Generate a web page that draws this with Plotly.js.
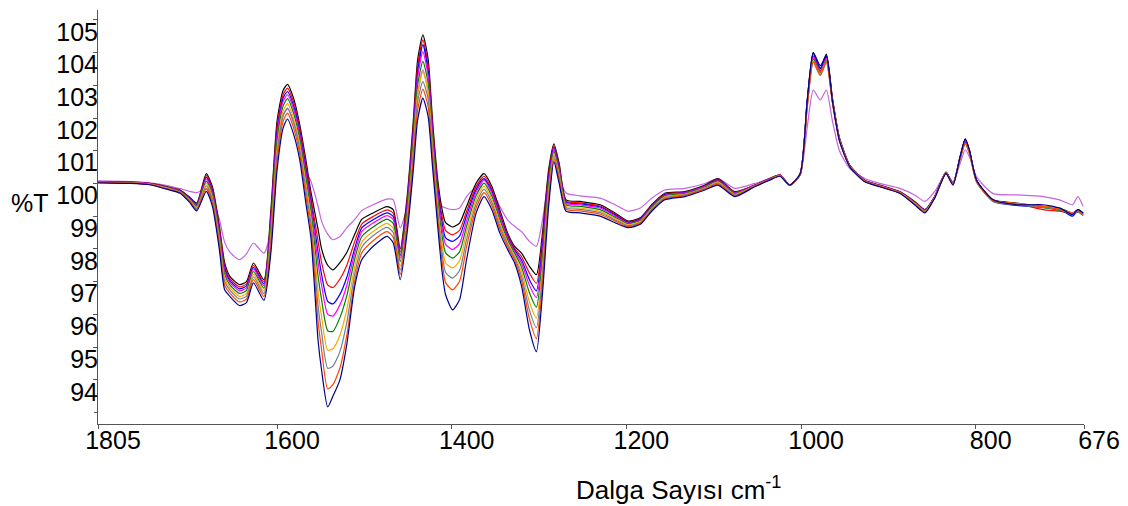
<!DOCTYPE html>
<html>
<head>
<meta charset="utf-8">
<script src="https://cdn.plot.ly/plotly-3.0.1.min.js"></script>
<style>html,body{margin:0;padding:0;background:#fff;}#chart{width:1128px;height:506px;}</style>
</head>
<body>
<div id="chart"></div>
<script>
// Wavenumbers (cm-1)
const wavenumber = [1805,1769,1746,1723,1711,1700,1692,1681,1674,1666,1660,1654,1643,1635,1627,1615,1607,1600,1593,1588,1581,1574,1567,1561,1553,1549,1542,1536,1528,1520,1511,1503,1490,1474,1467,1459,1451,1444,1439,1433,1427,1422,1416,1411,1407,1399,1391,1383,1372,1363,1354,1345,1336,1328,1320,1311,1303,1296,1289,1283,1277,1269,1253,1230,1213,1198,1184,1171,1156,1133,1110,1095,1076,1053,1036,1024,1013,1001,993,986,978,971,964,956,944,927,910,887,870,858,847,834,826,818,812,807,799,780,753,723,704,689,683,677];

const sViolet = [100.08,100.06,100.02,99.92,99.84,99.76,99.72,99.83,99.55,98.9,98.2,97.9,97.67,97.85,98.18,97.87,98.6,101.0,102.1,102.28,101.9,101.2,100.4,100.05,99.3,98.85,98.45,98.28,98.38,98.65,98.9,99.17,99.35,99.52,99.5,98.64,99.3,100.9,102.7,103.47,102.8,101.3,99.7,99.3,99.25,99.2,99.25,99.6,99.91,100.13,99.8,99.3,98.89,98.69,98.53,98.23,98.08,98.89,100.21,101.03,100.21,99.71,99.62,99.55,99.35,99.15,99.25,99.55,99.8,99.85,100.0,100.15,99.85,100.0,100.15,100.22,99.95,100.25,101.7,102.85,102.55,102.85,101.9,101.0,100.45,100.15,100.0,99.85,99.65,99.45,99.75,100.3,100.05,100.6,101.03,100.8,100.2,99.69,99.65,99.6,99.5,99.35,99.6,99.3];

const sBlack = [100.05,100.04,100.0,99.88,99.8,99.58,99.4,100.3,99.9,98.69,97.58,97.16,96.91,97.0,97.57,97.06,99.2,101.9,102.85,103.03,102.6,101.8,100.72,99.71,98.6,98.0,97.5,97.36,97.58,97.9,98.45,98.9,99.1,99.29,99.2,98.0,99.6,101.9,103.78,104.54,103.8,101.94,100.11,99.2,98.8,98.67,98.79,99.3,100.01,100.3,99.91,99.2,98.49,98.08,97.87,97.47,97.21,98.5,100.42,101.21,100.62,99.5,99.45,99.35,99.1,98.85,98.95,99.35,99.7,99.75,99.95,100.15,99.75,99.95,100.15,100.26,99.95,100.3,102.5,104.0,103.5,103.95,102.6,101.4,100.55,100.1,99.95,99.75,99.45,99.2,99.6,100.35,100.0,100.8,101.36,101.0,100.1,99.5,99.4,99.3,99.25,99.1,99.2,99.1];

const sRed = [100.05,100.04,100.0,99.87,99.79,99.56,99.37,100.24,99.83,98.61,97.49,97.09,96.84,96.93,97.5,96.99,99.06,101.74,102.72,102.91,102.48,101.68,100.58,99.55,98.23,97.59,96.9,96.82,97.08,97.51,98.23,98.76,98.99,99.19,99.09,97.9,99.48,101.74,103.58,104.39,103.61,101.78,99.95,98.99,98.56,98.43,98.57,99.15,99.91,100.22,99.83,99.12,98.43,98.02,97.76,97.26,96.95,98.3,100.3,101.15,100.55,99.46,99.41,99.31,99.07,98.83,98.93,99.33,99.68,99.73,99.93,100.13,99.73,99.95,100.15,100.26,99.95,100.28,102.45,103.9,103.45,103.88,102.55,101.37,100.54,100.09,99.94,99.74,99.44,99.19,99.59,100.34,99.99,100.78,101.3,100.96,100.08,99.49,99.38,99.2,99.15,99.08,99.15,99.05];

const sBlue = [100.04,100.03,99.99,99.86,99.78,99.55,99.35,100.19,99.77,98.54,97.41,97.03,96.78,96.87,97.44,96.93,98.93,101.59,102.61,102.81,102.37,101.57,100.44,99.41,97.89,97.22,96.4,96.32,96.61,97.14,98.02,98.64,98.89,99.1,98.99,97.8,99.37,101.59,103.39,104.24,103.43,101.64,99.81,98.8,98.34,98.23,98.39,99.02,99.82,100.15,99.76,99.05,98.38,97.97,97.66,97.06,96.72,98.11,100.18,101.1,100.49,99.43,99.38,99.28,99.04,98.81,98.91,99.31,99.66,99.72,99.92,100.11,99.72,99.94,100.14,100.25,99.96,100.3,102.5,103.97,103.52,103.9,102.55,101.36,100.53,100.08,99.93,99.73,99.43,99.18,99.59,100.34,99.99,100.8,101.34,100.98,100.1,99.45,99.33,99.28,99.22,99.0,99.18,99.08];

const sMagenta = [100.04,100.03,99.99,99.86,99.77,99.53,99.33,100.14,99.72,98.48,97.33,96.98,96.72,96.81,97.39,96.87,98.81,101.45,102.51,102.71,102.27,101.48,100.32,99.29,97.58,96.89,96.0,95.95,96.29,96.89,97.88,98.53,98.79,99.02,98.9,97.72,99.27,101.45,103.23,104.03,103.28,101.51,99.68,98.63,98.14,97.98,98.16,98.86,99.74,100.09,99.7,98.99,98.34,97.93,97.57,96.89,96.51,97.95,100.08,101.05,100.44,99.4,99.35,99.25,99.01,98.79,98.89,99.29,99.64,99.71,99.91,100.09,99.71,99.94,100.14,100.25,99.95,100.29,102.42,103.85,103.42,103.83,102.52,101.35,100.53,100.08,99.93,99.73,99.42,99.17,99.58,100.33,99.98,100.77,101.28,100.95,100.07,99.47,99.37,99.27,99.2,99.1,99.16,99.06];

const sGreen = [100.04,100.02,99.98,99.85,99.76,99.51,99.3,100.07,99.65,98.39,97.23,96.9,96.64,96.73,97.31,96.8,98.65,101.27,102.37,102.59,102.14,101.35,100.17,99.12,97.17,96.45,95.5,95.48,95.9,96.58,97.7,98.38,98.67,98.91,98.78,97.61,99.14,101.27,103.01,103.73,103.07,101.34,99.51,98.4,97.88,97.72,97.91,98.69,99.63,100.01,99.61,98.9,98.28,97.87,97.45,96.66,96.22,97.73,99.95,100.98,100.36,99.35,99.3,99.2,98.97,98.77,98.87,99.27,99.62,99.69,99.89,100.07,99.69,99.93,100.13,100.24,99.94,100.27,102.38,103.8,103.38,103.78,102.5,101.34,100.52,100.07,99.92,99.72,99.41,99.16,99.58,100.33,99.98,100.76,101.25,100.93,100.06,99.46,99.36,99.26,99.18,99.07,99.12,99.02];

const sOrange = [100.03,100.02,99.98,99.84,99.74,99.49,99.27,100.0,99.56,98.29,97.12,96.82,96.55,96.64,97.23,96.71,98.47,101.06,102.21,102.44,101.98,101.2,99.98,98.92,96.7,95.93,94.9,94.95,95.36,96.16,97.46,98.21,98.53,98.78,98.63,97.47,98.98,101.06,102.75,103.42,102.82,101.14,99.31,98.14,97.57,97.42,97.64,98.5,99.5,99.91,99.51,98.8,98.2,97.79,97.3,96.38,95.89,97.47,99.79,100.91,100.28,99.3,99.25,99.15,98.93,98.74,98.84,99.24,99.59,99.67,99.87,100.04,99.67,99.92,100.12,100.24,99.95,100.28,102.35,103.75,103.35,103.74,102.48,101.33,100.52,100.07,99.92,99.72,99.4,99.15,99.57,100.32,99.97,100.75,101.22,100.92,100.05,99.48,99.39,99.3,99.22,99.09,99.17,99.07];

const sGray = [100.03,100.01,99.97,99.82,99.73,99.47,99.23,99.93,99.49,98.2,97.01,96.74,96.47,96.56,97.15,96.63,98.3,100.87,102.06,102.3,101.84,101.05,99.81,98.74,96.25,95.45,94.35,94.42,94.86,95.77,97.24,98.05,98.4,98.66,98.5,97.35,98.84,100.87,102.51,103.11,102.59,100.96,99.13,97.89,97.28,97.11,97.34,98.29,99.38,99.82,99.42,98.71,98.14,97.73,97.17,96.13,95.59,97.23,99.65,100.84,100.2,99.26,99.21,99.11,98.89,98.71,98.81,99.21,99.56,99.65,99.85,100.01,99.65,99.92,100.12,100.23,99.94,100.26,102.3,103.7,103.3,103.7,102.46,101.32,100.51,100.06,99.91,99.71,99.38,99.13,99.57,100.32,99.97,100.74,101.2,100.9,100.04,99.45,99.35,99.27,99.2,99.06,99.14,99.04];

const sOrangeRed = [100.03,100.01,99.97,99.81,99.72,99.45,99.2,99.85,99.4,98.1,96.89,96.65,96.38,96.47,97.06,96.54,98.12,100.66,101.9,102.15,101.69,100.9,99.62,98.54,95.78,94.93,93.72,93.85,94.36,95.38,97.02,97.88,98.25,98.53,98.36,97.22,98.69,100.66,102.25,102.88,102.35,100.76,98.93,97.62,96.97,96.75,97.01,98.06,99.25,99.72,99.32,98.61,98.07,97.66,97.03,95.86,95.26,96.97,99.49,100.76,100.11,99.21,99.16,99.06,98.85,98.68,98.78,99.18,99.53,99.63,99.83,99.98,99.63,99.91,100.11,100.23,99.95,100.27,102.32,103.72,103.32,103.72,102.47,101.31,100.51,100.06,99.91,99.71,99.37,99.12,99.56,100.31,99.96,100.76,101.24,100.92,100.06,99.47,99.38,99.29,99.21,99.08,99.16,99.06];

const sNavy = [100.02,100.0,99.96,99.8,99.7,99.42,99.16,99.76,99.3,97.98,96.75,96.55,96.27,96.36,96.96,96.43,97.9,100.4,101.7,101.97,101.5,100.72,99.4,98.3,95.2,94.3,93.17,93.5,94.0,95.1,96.86,97.67,98.08,98.38,98.19,97.06,98.5,100.4,101.94,102.61,102.05,100.52,98.69,97.3,96.6,96.14,96.45,97.67,99.1,99.6,99.2,98.49,97.98,97.57,96.86,95.53,94.86,96.66,99.3,100.67,100.01,99.15,99.1,99.0,98.8,98.65,98.75,99.15,99.5,99.6,99.8,99.95,99.6,99.9,100.1,100.22,99.95,100.3,102.5,104.0,103.6,103.9,102.5,101.3,100.5,100.05,99.9,99.7,99.35,99.1,99.55,100.3,99.95,100.8,101.36,101.0,100.1,99.5,99.35,99.35,99.25,99.05,99.2,99.1];

const seriesNames = ['violet','black','red','blue','magenta','green','orange','gray','orangered','navy'];
const seriesValues = [sViolet,sBlack,sRed,sBlue,sMagenta,sGreen,sOrange,sGray,sOrangeRed,sNavy];
const seriesColors = ['#C463E0','#000000','#FF0000','#0000FF','#FF00FF','#008000','#FFA500','#708090','#FF4500','#00008B'];

const xTickVals = [1805,1600,1400,1200,1000,800,676];
const yTickVals = [94,95,96,97,98,99,100,101,102,103,104,105];
const yMinorTick = 93;

const FONT = 'Arial, "Liberation Sans", sans-serif';

const traces = seriesValues.map((vals, i) => ({
  x: wavenumber, y: vals, type: 'scatter', mode: 'lines', name: seriesNames[i],
  line: {color: seriesColors[i], width: 1.2, shape: 'spline', smoothing: 0.6},
  hoverinfo: 'skip'
}));

const layout = {
  width: 1128, height: 506,
  margin: {l: 98, r: 44, t: 10, b: 82},
  paper_bgcolor: '#ffffff', plot_bgcolor: '#ffffff',
  showlegend: false,
  font: {family: FONT, size: 25, color: '#000'},
  xaxis: {
    range: [1805, 676], tickvals: xTickVals, ticktext: xTickVals.map(String),
    showline: true, linecolor: '#555', linewidth: 1, showgrid: false, zeroline: false,
    ticks: 'outside', ticklen: 4, tickcolor: '#555', tickwidth: 1,
    tickfont: {family: FONT, size: 25, color: '#000'},
    ticklabelshift: -15, ticklabelstandoff: -10
  },
  yaxis: {
    range: [92.65, 105.3], tickvals: yTickVals, ticktext: yTickVals.map(String),
    showline: true, linecolor: '#555', linewidth: 1, showgrid: false, zeroline: false,
    ticks: 'outside', ticklen: 4, tickcolor: '#555', tickwidth: 1,
    tickfont: {family: FONT, size: 25, color: '#000'},
    ticklabelshift: 12, ticklabelstandoff: -10
  },
  shapes: [
    {type: 'line', xref: 'paper', yref: 'y', x0: -0.004, x1: 0, y0: yMinorTick, y1: yMinorTick,
     line: {color: '#555', width: 1}}
  ],
  annotations: [
    {text: '%T', xref: 'paper', yref: 'paper', x: -0.09, y: 0.534, xanchor: 'left', yanchor: 'middle',
     showarrow: false, font: {family: FONT, size: 25, color: '#000'}},
    {text: 'Dalga Sayısı cm<sup>-1</sup>', xref: 'paper', yref: 'paper', x: 0.483, y: -0.156,
     xanchor: 'left', yanchor: 'middle', showarrow: false, font: {family: FONT, size: 26, color: '#000'}}
  ]
};

Plotly.newPlot('chart', traces, layout, {displayModeBar: false, staticPlot: true});
</script>
</body>
</html>
